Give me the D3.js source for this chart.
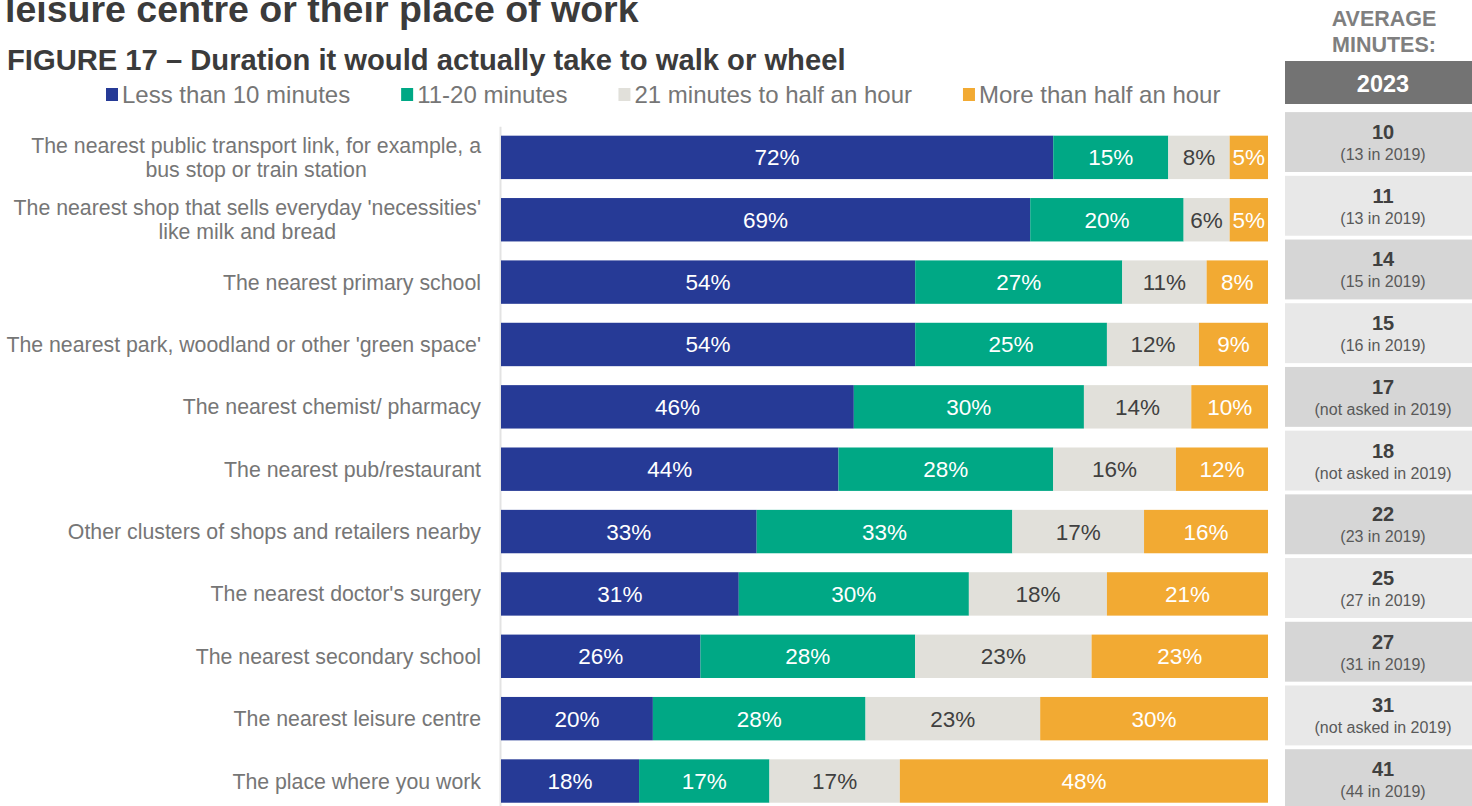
<!DOCTYPE html>
<html>
<head>
<meta charset="utf-8">
<script src="https://cdn.jsdelivr.net/npm/d3@7"></script>
<style>
  html, body { margin: 0; padding: 0; background: #fff; }
  svg { display: block; font-family: "Liberation Sans", Arial, Helvetica, sans-serif; }
</style>
</head>
<body>
<svg id="chart" width="1472" height="806"></svg>
<script>
// Destinations (a "|" marks a line break in the label)
const categories = [
  "The nearest public transport link, for example, a|bus stop or train station",
  "The nearest shop that sells everyday 'necessities'|like milk and bread",
  "The nearest primary school",
  "The nearest park, woodland or other 'green space'",
  "The nearest chemist/ pharmacy",
  "The nearest pub/restaurant",
  "Other clusters of shops and retailers nearby",
  "The nearest doctor's surgery",
  "The nearest secondary school",
  "The nearest leisure centre",
  "The place where you work"
];

const seriesNames = ["Less than 10 minutes", "11-20 minutes", "21 minutes to half an hour", "More than half an hour"];

// Share of respondents (%) by walking / wheeling time
const lessThan10 = [72, 69, 54, 54, 46, 44, 33, 31, 26, 20, 18];
const mins11to20 = [15, 20, 27, 25, 30, 28, 33, 30, 28, 28, 17];
const mins21to30 = [8, 6, 11, 12, 14, 16, 17, 18, 23, 23, 17];
const over30     = [5, 5, 8, 9, 10, 12, 16, 21, 23, 30, 48];

// Average minutes in 2023 and 2019 (null = not asked in 2019)
const avg2023 = [10, 11, 14, 15, 17, 18, 22, 25, 27, 31, 41];
const avg2019 = [13, 13, 15, 16, null, null, 23, 27, 31, null, 44];

const colors = ["#263a96", "#00a885", "#e1e0da", "#f2aa33"];
const labelColors = ["#ffffff", "#ffffff", "#404040", "#ffffff"];

const svg = d3.select("#chart");

// Build rows for the stack
const seriesArrays = [lessThan10, mins11to20, mins21to30, over30];
const rows = categories.map((c, i) => {
  const r = { category: c };
  seriesNames.forEach((k, j) => { r[k] = seriesArrays[j][i]; });
  return r;
});

const stack = d3.stack().keys(seriesNames).offset(d3.stackOffsetExpand);
const stacked = stack(rows);

const x = d3.scaleLinear().domain([0, 1]).range([501, 1268]);
const y = d3.scaleBand().domain(categories).range([126.2, 812.2])
  .paddingInner(0.304).paddingOuter(0.152);

// Title block
svg.append("text").attr("x", 5).attr("y", 22)
  .attr("font-size", 37.5).attr("font-weight", "bold").attr("fill", "#3b3b3b")
  .text("leisure centre or their place of work");
svg.append("text").attr("x", 7).attr("y", 70)
  .attr("font-size", 29.2).attr("font-weight", "bold").attr("fill", "#3b3b3b")
  .text("FIGURE 17 \u2013 Duration it would actually take to walk or wheel");

// Legend
const legend = svg.append("g").attr("transform", "translate(106,0)");
let lx = 0;
seriesNames.forEach((name, i) => {
  const g = legend.append("g").attr("transform", `translate(${lx},0)`);
  g.append("rect").attr("x", 0).attr("y", 88).attr("width", 12).attr("height", 13).attr("fill", colors[i]);
  const t = g.append("text").attr("x", 16).attr("y", 103)
    .attr("font-size", 24).attr("fill", "#767676").text(name);
  lx += 16 + t.node().getComputedTextLength() + 51;
});

// Category axis
const axis = svg.append("g").attr("transform", "translate(500,0)")
  .call(d3.axisLeft(y).tickSize(0).tickPadding(19).tickSizeOuter(0));
axis.select(".domain").attr("stroke", "#e3e3e3").attr("stroke-width", 2);
axis.selectAll(".tick text").each(function (d) {
  const t = d3.select(this);
  const lines = d.split("|");
  t.text(null).attr("font-size", 21.3).attr("fill", "#767676")
    .attr("font-family", "\"Liberation Sans\", Arial, sans-serif").attr("dy", null);
  const spans = lines.map((ln, k) => t.append("tspan").attr("x", -19)
    .attr("y", (k - (lines.length - 1) / 2) * 24 + 7.5).text(ln));
  if (lines.length > 1) {
    const w = d3.max(spans, s => s.node().getComputedTextLength());
    t.attr("text-anchor", "middle");
    spans.forEach(s => s.attr("x", -19 - w / 2));
  }
});

// Stacked bars
const layers = svg.append("g").selectAll("g").data(stacked).join("g")
  .attr("fill", (d, i) => colors[i]);
layers.selectAll("rect").data(d => d).join("rect")
  .attr("x", d => x(d[0]))
  .attr("y", d => y(d.data.category))
  .attr("width", d => x(d[1]) - x(d[0]))
  .attr("height", y.bandwidth());

// Value labels
const valueLayers = svg.append("g").selectAll("g").data(stacked).join("g")
  .attr("fill", (d, i) => labelColors[i]);
valueLayers.each(function (layer) {
  d3.select(this).selectAll("text").data(layer).join("text")
    .attr("x", d => (x(d[0]) + x(d[1])) / 2)
    .attr("y", d => y(d.data.category) + y.bandwidth() / 2 + 8)
    .attr("text-anchor", "middle")
    .attr("font-size", 22.5)
    .text(d => d.data[layer.key] + "%");
});

// Average minutes panel
svg.append("text").attr("x", 1384).attr("y", 26).attr("text-anchor", "middle")
  .attr("font-size", 21.5).attr("font-weight", "bold").attr("fill", "#7f7f7f").text("AVERAGE");
svg.append("text").attr("x", 1384).attr("y", 52).attr("text-anchor", "middle")
  .attr("font-size", 21.5).attr("font-weight", "bold").attr("fill", "#7f7f7f").text("MINUTES:");
svg.append("rect").attr("x", 1285).attr("y", 61).attr("width", 187).attr("height", 43).attr("fill", "#737373");
svg.append("text").attr("x", 1383).attr("y", 92).attr("text-anchor", "middle")
  .attr("font-size", 23.5).attr("font-weight", "bold").attr("fill", "#ffffff").text("2023");

const yPanel = d3.scaleBand().domain(categories).range([110.2, 811]).paddingInner(0.06).paddingOuter(0.03);
const cells = svg.append("g").selectAll("g").data(categories).join("g")
  .attr("transform", c => `translate(0,${yPanel(c)})`);
cells.append("rect").attr("x", 1285).attr("y", 0).attr("width", 187).attr("height", yPanel.bandwidth())
  .attr("fill", (c, i) => i % 2 === 0 ? "#d6d6d6" : "#e8e8e8");
cells.append("text").attr("x", 1383).attr("y", yPanel.bandwidth() / 2 - 3)
  .attr("text-anchor", "middle").attr("font-size", 20).attr("font-weight", "bold").attr("fill", "#404040")
  .text((c, i) => avg2023[i]);
cells.append("text").attr("x", 1383).attr("y", yPanel.bandwidth() / 2 + 18)
  .attr("text-anchor", "middle").attr("font-size", 16).attr("fill", "#595959")
  .text((c, i) => avg2019[i] === null ? "(not asked in 2019)" : `(${avg2019[i]} in 2019)`);
</script>
</body>
</html>
